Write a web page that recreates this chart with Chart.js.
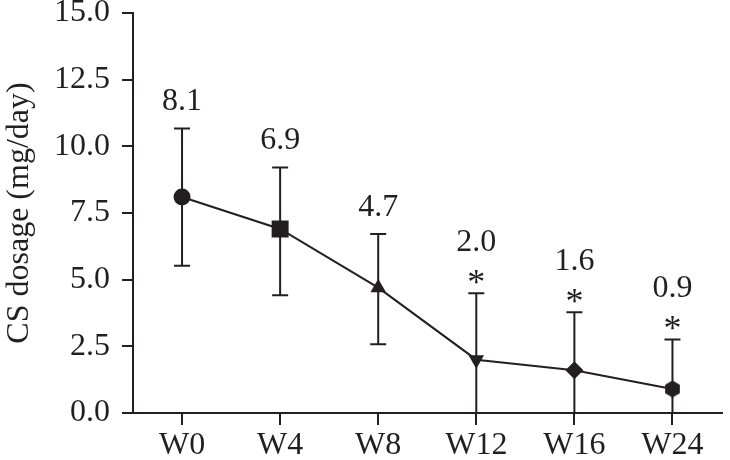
<!DOCTYPE html>
<html>
<head>
<meta charset="utf-8">
<script src="https://cdn.jsdelivr.net/npm/chart.js@4/dist/chart.umd.min.js"></script>
<style>
  html, body { margin: 0; padding: 0; background: #fff; }
  #wrap { width: 730px; height: 460px; position: relative; }
</style>
</head>
<body>
<div id="wrap"><canvas id="c"></canvas></div>
<script>
// ---- data ----
const categories = ['W0', 'W4', 'W8', 'W12', 'W16', 'W24'];
const meanValues = [8.1, 6.9, 4.7, 2.0, 1.6, 0.9];
const valueLabels = ['8.1', '6.9', '4.7', '2.0', '1.6', '0.9'];
const errUpper = [2.57, 2.31, 2.01, 2.49, 2.18, 1.86];
const errLower = [2.58, 2.48, 2.12, 2.49, 2.18, 1.86];
const significant = [false, false, false, true, true, true];
const yTicks = [0, 2.5, 5, 7.5, 10, 12.5, 15];

const INK = '#231f20';
const FONT = '"Liberation Serif", "DejaVu Serif", serif';
const FS = 32;

// hexagon marker image
function hexMarker(size) {
  const c = document.createElement('canvas');
  c.width = size; c.height = size;
  const g = c.getContext('2d');
  const r = size / 2;
  g.fillStyle = INK;
  g.beginPath();
  for (let i = 0; i < 6; i++) {
    const a = Math.PI / 2 + i * Math.PI / 3;
    const px = r + r * Math.cos(a), py = r - r * Math.sin(a);
    if (i === 0) g.moveTo(px, py); else g.lineTo(px, py);
  }
  g.closePath();
  g.fill();
  return c;
}

const pointStyles = ['circle', 'rect', 'triangle', 'triangle', 'rectRot', hexMarker(17)];
const pointRotations = [0, 0, 0, 180, 0, 0];
const pointRadii = [8.5, 12, 9, 9, 9, 8.5];

const errorBarPlugin = {
  id: 'errorBars',
  beforeDatasetsDraw(chart) {
    const ctx = chart.ctx;
    const x = chart.scales.x, y = chart.scales.y;
    ctx.save();
    ctx.strokeStyle = INK;
    ctx.lineWidth = 2;
    const cap = 8;
    meanValues.forEach((m, i) => {
      const px = x.getPixelForValue(i);
      const top = y.getPixelForValue(m + errUpper[i]);
      const bot = y.getPixelForValue(Math.max(0, m - errLower[i]));
      ctx.beginPath();
      ctx.moveTo(px, top); ctx.lineTo(px, bot);
      ctx.moveTo(px - cap, top); ctx.lineTo(px + cap, top);
      ctx.moveTo(px - cap, bot); ctx.lineTo(px + cap, bot);
      ctx.stroke();
    });
    ctx.restore();
  },
  afterDatasetsDraw(chart) {
    const ctx = chart.ctx;
    const x = chart.scales.x, y = chart.scales.y;
    ctx.save();
    ctx.fillStyle = INK;
    ctx.textAlign = 'center';
    ctx.textBaseline = 'alphabetic';
    meanValues.forEach((m, i) => {
      const px = x.getPixelForValue(i);
      const top = y.getPixelForValue(m + errUpper[i]);
      if (significant[i]) {
        ctx.font = '36px ' + FONT;
        ctx.fillText('*', px, top + 1);
        ctx.font = FS + 'px ' + FONT;
        ctx.fillText(valueLabels[i], px, top - 42);
      } else {
        ctx.font = FS + 'px ' + FONT;
        ctx.fillText(valueLabels[i], px, top - 18);
      }
    });
    ctx.restore();
  }
};

new Chart(document.getElementById('c'), {
  type: 'line',
  data: {
    labels: categories,
    datasets: [{
      data: meanValues,
      borderColor: INK,
      borderWidth: 2,
      backgroundColor: INK,
      pointBackgroundColor: INK,
      pointBorderColor: INK,
      pointBorderWidth: 0,
      pointStyle: pointStyles,
      pointRotation: pointRotations,
      pointRadius: pointRadii,
      pointHoverRadius: pointRadii,
      tension: 0,
      clip: false
    }]
  },
  options: {
    responsive: true,
    maintainAspectRatio: false,
    animation: false,
    events: [],
    layout: { padding: { top: 13, right: 0, bottom: 0, left: 0 } },
    plugins: { legend: { display: false }, tooltip: { enabled: false } },
    scales: {
      x: {
        type: 'category',
        offset: true,
        border: { display: true, color: INK, width: 2 },
        grid: { drawOnChartArea: false, drawTicks: true, tickLength: 12, color: INK, lineWidth: 2, offset: false },
        ticks: { color: INK, font: { family: FONT, size: FS }, padding: 1, maxRotation: 0, autoSkip: false },
        afterFit(s) { s.height = 47; s.paddingLeft = 0; s.paddingRight = 0; }
      },
      y: {
        min: 0, max: 15,
        afterBuildTicks(s) { s.ticks = yTicks.map(v => ({ value: v })); },
        border: { display: true, color: INK, width: 2 },
        grid: { drawOnChartArea: false, drawTicks: true, tickLength: 11, color: INK, lineWidth: 2 },
        ticks: {
          color: INK, font: { family: FONT, size: FS }, padding: 12,
          callback: v => Number(v).toFixed(1)
        },
        title: {
          display: true, text: 'CS dosage (mg/day)', color: INK,
          font: { family: FONT, size: FS }, padding: { top: 0, bottom: 0 }
        },
        afterFit(s) { s.width = 133; s.paddingTop = 0; s.paddingBottom = 0; }
      }
    }
  },
  plugins: [errorBarPlugin]
});
</script>
</body>
</html>
